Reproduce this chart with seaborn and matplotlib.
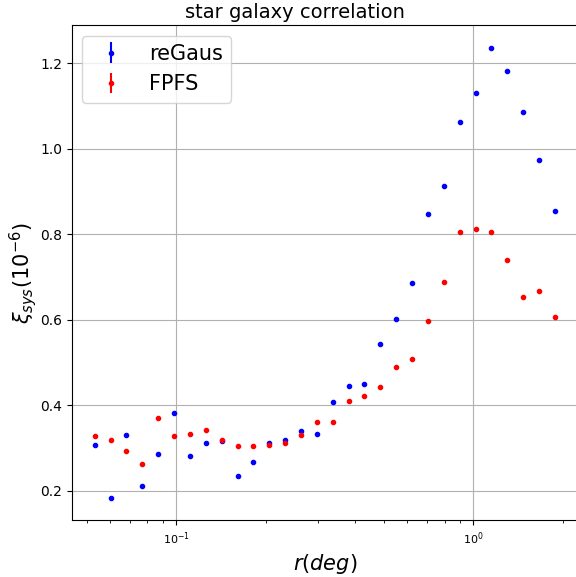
import numpy as np
import pandas as pd
import matplotlib
matplotlib.use("Agg")
import matplotlib.pyplot as plt
import seaborn as sns

r_deg = [0.05317, 0.06013, 0.06800, 0.07689, 0.08695, 0.09833, 0.11120, 0.12575,
         0.14220, 0.16081, 0.18185, 0.20564, 0.23255, 0.26298, 0.29739, 0.33630,
         0.38030, 0.43006, 0.48633, 0.54996, 0.62192, 0.70329, 0.79528, 0.89935,
         1.01702, 1.15009, 1.30057, 1.47073, 1.66317, 1.88078]
regaus = [0.308, 0.184, 0.331, 0.212, 0.286, 0.382, 0.281, 0.313, 0.316, 0.235,
          0.267, 0.311, 0.318, 0.340, 0.334, 0.407, 0.445, 0.450, 0.543, 0.602,
          0.686, 0.847, 0.913, 1.061, 1.129, 1.236, 1.182, 1.086, 0.974, 0.855]
fpfs = [0.329, 0.319, 0.293, 0.264, 0.371, 0.329, 0.332, 0.342, 0.319, 0.306,
        0.304, 0.308, 0.312, 0.331, 0.361, 0.361, 0.410, 0.423, 0.443, 0.490,
        0.508, 0.597, 0.689, 0.804, 0.812, 0.805, 0.740, 0.654, 0.667, 0.607]
series_names = ["reGaus", "FPFS"]
series_colors = ["blue", "red"]

df = pd.DataFrame({"r": r_deg * 2,
                   "xi": regaus + fpfs,
                   "method": [series_names[0]] * len(r_deg) + [series_names[1]] * len(r_deg)})

fig = plt.figure(figsize=(5.76, 5.77), dpi=100)
ax = fig.add_axes([71.7 / 576, 1 - 520.3 / 577, (577.9 - 71.7) / 576, (520.3 - 25.1) / 577])

for name, col in zip(series_names, series_colors):
    sub = df[df["method"] == name]
    sns.scatterplot(data=sub, x="r", y="xi", ax=ax, marker=".", s=36,
                    color=col, edgecolor=col, linewidth=1, legend=False, zorder=3)
    ax.errorbar([], [], yerr=[], fmt=".", color=col, label=name)

ax.set_xscale("log")
ax.set_xlim(0.04452, 2.246)
ax.set_ylim(0.1314, 1.2886)
ax.set_yticks([0.2, 0.4, 0.6, 0.8, 1.0, 1.2])
ax.grid(True, which="major", color="#b0b0b0", linewidth=0.8)
ax.set_axisbelow(True)
ax.tick_params(axis="x", labelsize=8)
ax.tick_params(axis="y", labelsize=10)
ax.set_xlabel(r"$r(deg)$", fontsize=15)
ax.set_ylabel(r"$\xi_{sys}(10^{-6})$", fontsize=15, labelpad=0.5)
ax.legend(loc="upper left", fontsize=15)
fig.text(295 / 576, 1 - 17.5 / 577, "star galaxy correlation", ha="center",
         va="baseline", fontsize=14)

fig.savefig("out.png", dpi=100)
